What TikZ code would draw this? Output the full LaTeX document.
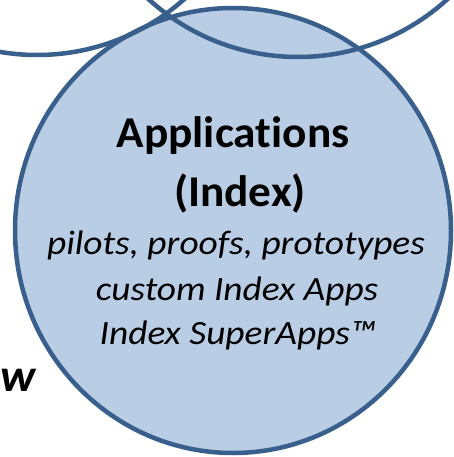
\documentclass[tikz,border=0pt]{standalone}
\usepackage{fontspec}
\setmainfont{Carlito}[Ligatures=NoCommon]
\newfontfamily\headfont{Carlito}[Ligatures=NoCommon,FakeStretch=1.03]
\newfontfamily\itemfont{Carlito}[Ligatures=NoCommon,FakeStretch=1.1]
\definecolor{AppFill}{RGB}{185,205,229}
\definecolor{RingBlue}{RGB}{57,95,140}

\begin{document}
\begin{tikzpicture}[x=1pt,y=-1pt,
    ring/.style={line width=4.5pt,RingBlue},
    headline/.style={anchor=base,font=\headfont\bfseries\fontsize{44}{44}\selectfont},
    itemline/.style={anchor=base,font=\itemfont\itshape\fontsize{34}{34}\selectfont}]
      \clip (0,0) rectangle (454,457);
      \draw[ring,fill=AppFill] (233,230.5) ellipse (218 and 222.5);
      \draw[ring] (37,-167) circle (222);
      \draw[ring] (298,-165) circle (222);
      \node[headline] (apps) at (233,147) {Applications};
      \node[headline] (index) at (240,206) {(Index)};
      \node[itemline] (pilots) at (236,254) {pilots, proofs, prototypes};
      \node[itemline] (custom) at (237,300) {custom Index Apps};
      \node[itemline] (superapps) at (238,344) {Index SuperApps™};
      \node[anchor=base west,font=\headfont\bfseries\itshape\fontsize{46}{46}\selectfont,inner sep=0pt] (w) at (0.5,391) {w};
\end{tikzpicture}
\end{document}
